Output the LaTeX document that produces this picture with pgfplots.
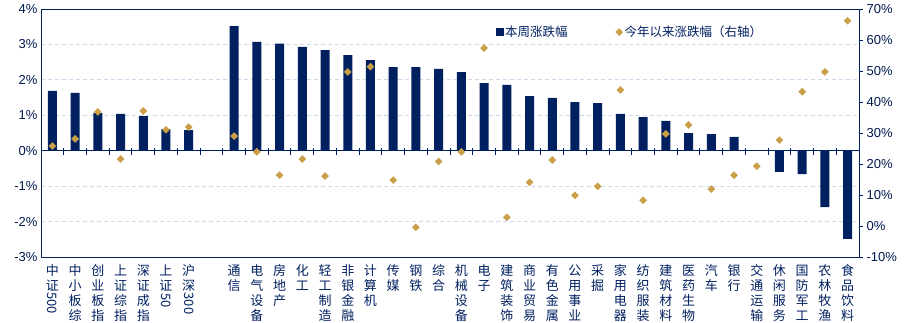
\documentclass[border=0pt]{standalone}
\usepackage{fontspec}
\setmainfont{Liberation Sans}
\newfontfamily\cjk{Noto Sans CJK SC}
\usepackage{graphicx}
\usepackage{pgfplots}
\usepackage{pgfplotstable}
\pgfplotsset{compat=1.18}
\definecolor{navy}{RGB}{0,32,96}
\definecolor{gold}{RGB}{201,160,72}
\definecolor{gridc}{RGB}{205,218,238}
\newcommand{\R}[1]{\rotatebox[origin=c]{-90}{#1}}

\pgfplotstableread{
x bar ytd
0 1.69 25.8
1 1.63 28.1
2 1.06 36.8
3 1.04 21.6
4 0.98 37.1
5 0.61 31.0
6 0.58 31.9
8 3.52 29.0
9 3.07 23.9
10 3.02 16.4
11 2.93 21.6
12 2.84 16.1
13 2.70 49.7
14 2.56 51.4
15 2.36 14.8
16 2.36 -0.4
17 2.31 20.8
18 2.22 23.9
19 1.91 57.4
20 1.86 2.8
21 1.54 14.1
22 1.49 21.3
23 1.37 9.9
24 1.34 12.8
25 1.04 43.9
26 0.95 8.3
27 0.84 29.7
28 0.50 32.6
29 0.47 11.9
30 0.39 16.4
31 0.00 19.3
32 -0.60 27.7
33 -0.66 43.3
34 -1.59 49.7
35 -2.49 66.2
}\data

\begin{document}
\begin{tikzpicture}
\path[use as bounding box] (-41pt,-65pt) rectangle (868pt,257pt);
\begin{axis}[
  at={(0,0)}, anchor=south west,
  scale only axis, width=818pt, height=248pt,
  xmin=-0.5, xmax=35.5, ymin=-3, ymax=4,
  ybar, bar width=9pt,
  xtick={0,...,35},
  xticklabels={{中\\证\\\R{500}}, {中\\小\\板\\综}, {创\\业\\板\\指}, {上\\证\\综\\指}, {深\\证\\成\\指}, {上\\证\\\R{50}}, {沪\\深\\\R{300}}, {}, {通\\信}, {电\\气\\设\\备}, {房\\地\\产}, {化\\工}, {轻\\工\\制\\造}, {非\\银\\金\\融}, {计\\算\\机}, {传\\媒}, {钢\\铁}, {综\\合}, {机\\械\\设\\备}, {电\\子}, {建\\筑\\装\\饰}, {商\\业\\贸\\易}, {有\\色\\金\\属}, {公\\用\\事\\业}, {采\\掘}, {家\\用\\电\\器}, {纺\\织\\服\\装}, {建\\筑\\材\\料}, {医\\药\\生\\物}, {汽\\车}, {银\\行}, {交\\通\\运\\输}, {休\\闲\\服\\务}, {国\\防\\军\\工}, {农\\林\\牧\\渔}, {食\\品\\饮\\料}},
  xtick pos=bottom, x tick style={draw=none},
  x tick label style={font=\fontsize{13}{15}\selectfont\cjk, align=center, anchor=north, text=navy},
  ytick={-3,...,4},
  yticklabels={-3\%,-2\%,-1\%,0\%,1\%,2\%,3\%,4\%},
  ytick pos=left, y tick style={draw=none},
  y tick label style={font=\fontsize{13}{15}\selectfont, text=navy!80!black},
  ymajorgrids, grid style={gridc, dash pattern=on 4pt off 3pt, line width=0.8pt},
  axis line style={navy, line width=0.8pt},
  clip=false,
]
\addplot[fill=navy, draw=none] table[x=x, y=bar]{\data};
\draw[navy, line width=0.8pt] (axis cs:-0.5,0) -- (axis cs:35.5,0);
\pgfplotsinvokeforeach{0,...,34}{
  \draw[navy, line width=1pt] (axis cs:#1.5,0.07) -- (axis cs:#1.5,-0.12);
}
\end{axis}
\begin{axis}[
  at={(0,0)}, anchor=south west,
  scale only axis, width=818pt, height=248pt,
  xmin=-0.5, xmax=35.5, ymin=-10, ymax=70,
  axis x line=none, axis y line*=right,
  ytick={-10,0,...,70},
  yticklabels={-10\%,0\%,10\%,20\%,30\%,40\%,50\%,60\%,70\%},
  y tick label style={font=\fontsize{13}{15}\selectfont, text=navy!80!black},
  y tick style={navy, line width=0.8pt}, tick align=outside, major tick length=4pt,
  axis line style={navy, line width=0.8pt},
  legend columns=2,
  legend style={at={(0.552,0.907)}, anchor=west, draw=none, fill=none,
    font=\fontsize{12.5}{14}\selectfont\cjk, text=navy,
    /tikz/every even column/.append style={column sep=46pt}},
  legend cell align=left,
]
\addlegendimage{legend image code/.code={\fill[navy] (0pt,-3.5pt) rectangle (7pt,3.5pt);}}
\addlegendentry{本周涨跌幅}
\addplot[only marks, mark=square*, mark size=2.5pt, mark options={rotate=45}, color=gold] table[x=x, y=ytd]{\data};
\addlegendentry{今年以来涨跌幅（右轴）}
\end{axis}
\end{tikzpicture}
\end{document}
